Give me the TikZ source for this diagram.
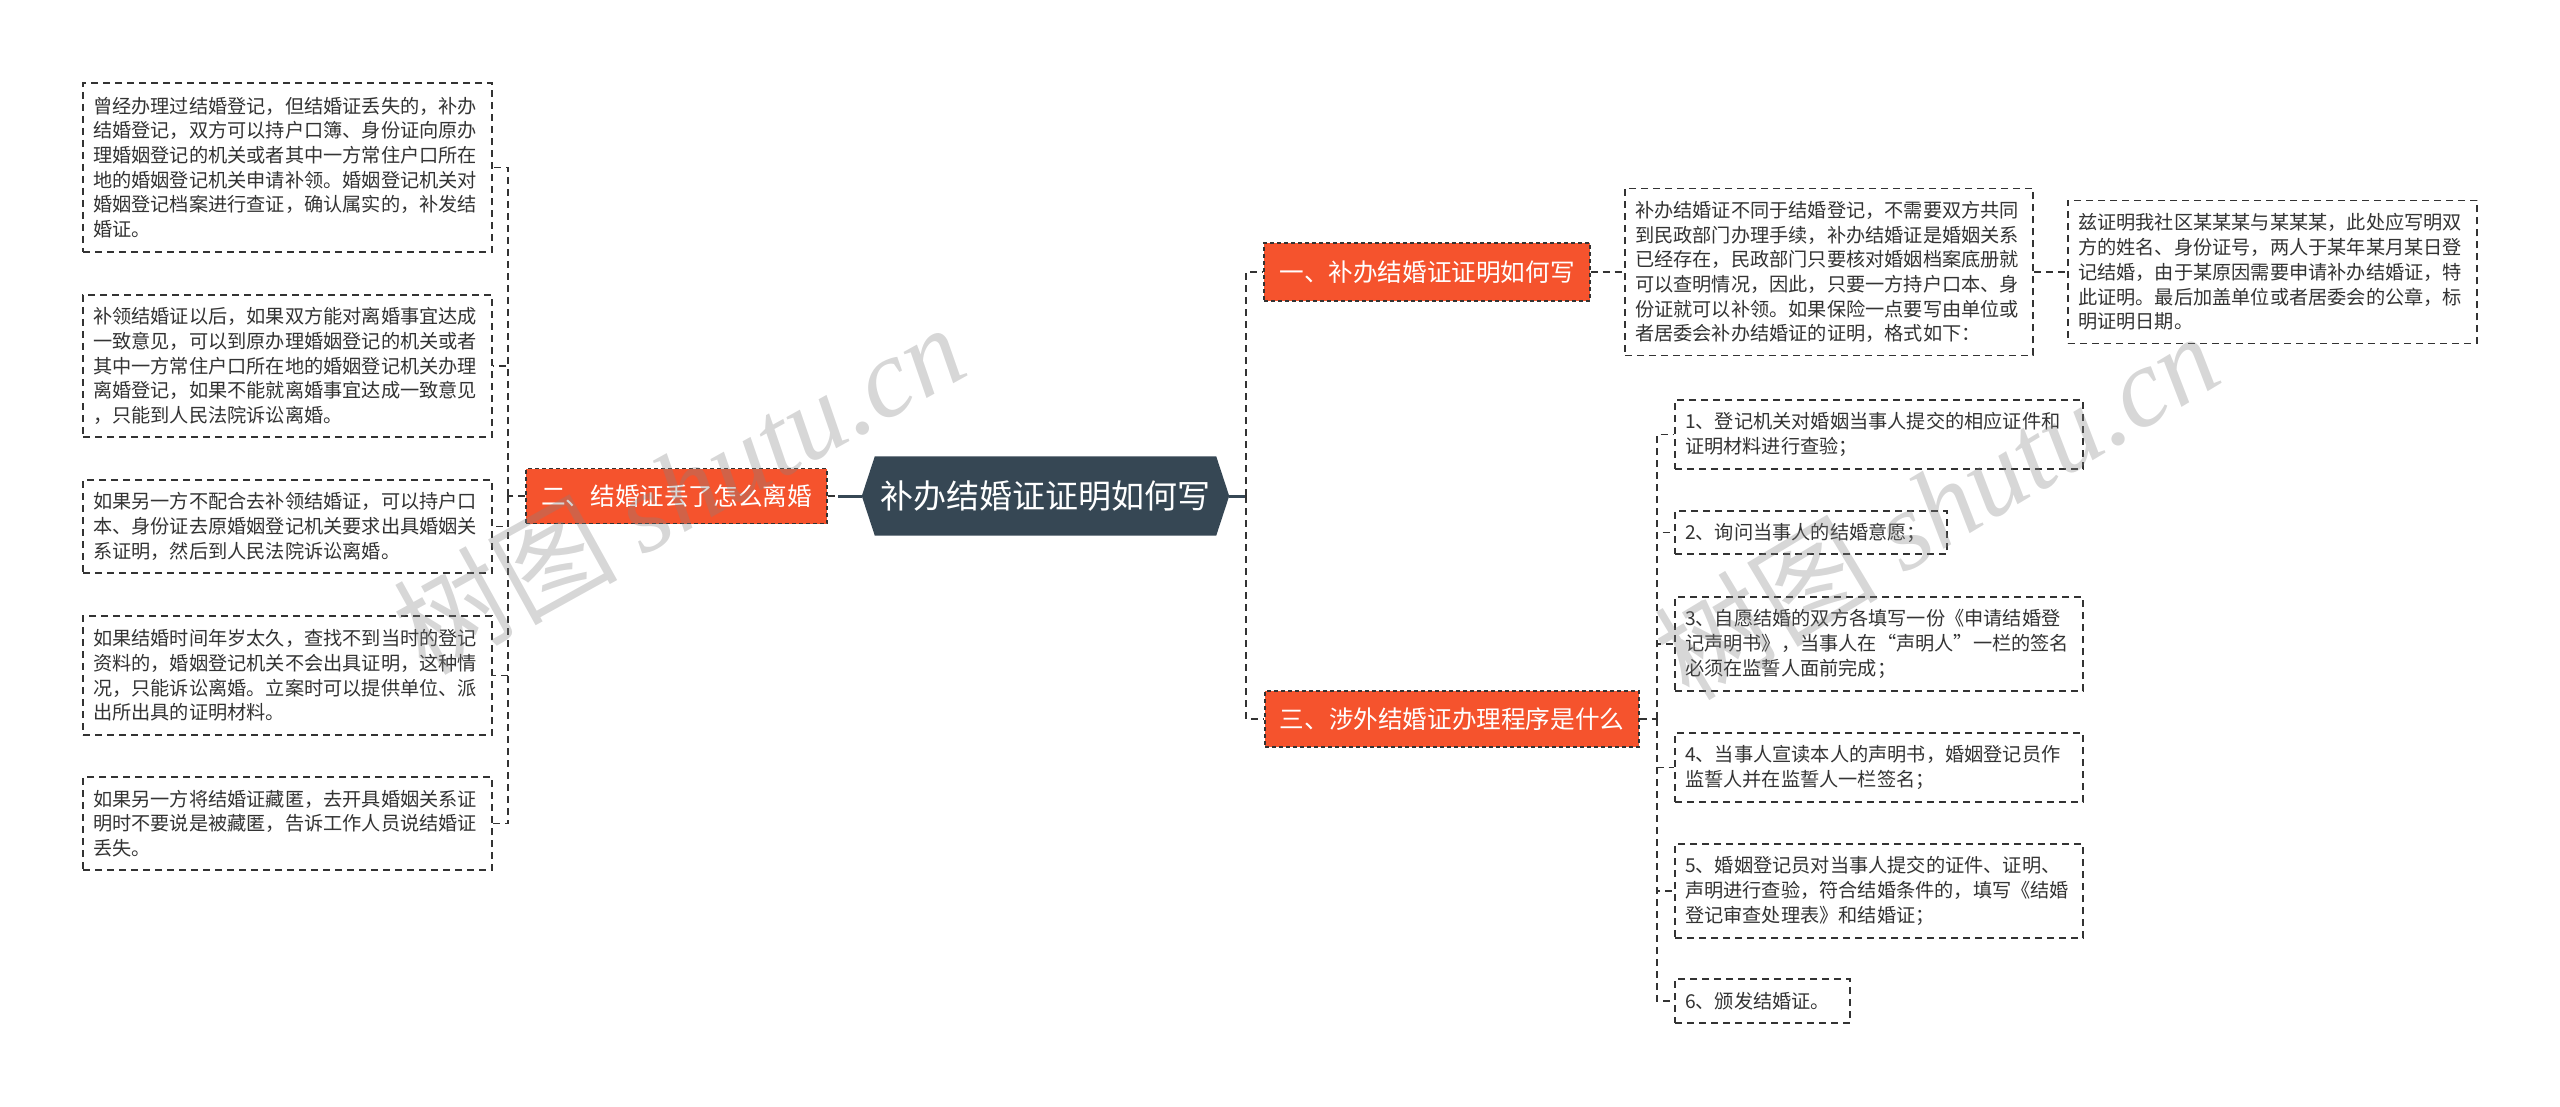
\documentclass[tikz,border=0pt]{standalone}
\usepackage{fontspec}
\setmainfont{Noto Sans CJK SC}
\newfontfamily\wmlatin{Liberation Serif}
\usetikzlibrary{calc}
\definecolor{orangebr}{RGB}{245,83,45}
\definecolor{slate}{RGB}{54,71,84}
\definecolor{linec}{RGB}{51,51,51}
\definecolor{txt}{RGB}{51,51,51}
\definecolor{wmgray}{RGB}{130,130,130}
\tikzset{
  leaf/.style={draw=linec, line width=1.6pt, dash pattern=on 7pt off 5pt, text=txt,
    align=left, inner xsep=10pt, inner ysep=0pt, anchor=center,
    font=\fontsize{19.2}{24.7}\selectfont},
  branch/.style={fill=orangebr, draw=linec, line width=1.2pt, dash pattern=on 4pt off 3pt,
    text=white, inner sep=0pt, anchor=center, font=\fontsize{24.6}{30}\selectfont},
  conn/.style={draw=linec, line width=1.6pt, dash pattern=on 7pt off 5pt},
  solidc/.style={draw=slate, line width=3pt},
  wm/.style={text=wmgray, opacity=0.32, inner sep=0pt, font=\fontsize{112}{116}\selectfont}
}
\begin{document}
\begin{tikzpicture}[x=1pt,y=-1pt]
\useasboundingbox (0,0) rectangle (2560,1107);
% central
\node[minimum width=341pt, minimum height=79pt, inner sep=0pt] (central) at (1045.5,496) {};
\coordinate (cw) at ([xshift=-13pt]central.west);
\coordinate (ce) at ([xshift=13pt]central.east);
\fill[slate] (central.north west) -- (central.north east) -- (ce) -- (central.south east)
  -- (central.south west) -- (cw) -- cycle;
\node[text=white, font=\fontsize{33}{38}\selectfont] (centraltext) at (central) {补办结婚证证明如何写};
% branches
\node[branch, minimum width=301pt, minimum height=55pt] (b2) at (676.5,496) {二、结婚证丢了怎么离婚};
\node[branch, minimum width=326pt, minimum height=58pt] (b1) at (1427,272) {一、补办结婚证证明如何写};
\node[branch, minimum width=374pt, minimum height=56pt] (b3) at (1452,719) {三、涉外结婚证办理程序是什么};
% left leaves
\node[leaf, text width=389pt, minimum height=169pt] (l1) at (287.5,167.5) {曾经办理过结婚登记，但结婚证丢失的，补办\\结婚登记，双方可以持户口簿、身份证向原办\\理婚姻登记的机关或者其中一方常住户口所在\\地的婚姻登记机关申请补领。婚姻登记机关对\\婚姻登记档案进行查证，确认属实的，补发结\\婚证。};
\node[leaf, text width=389pt, minimum height=142pt] (l2) at (287.5,366) {补领结婚证以后，如果双方能对离婚事宜达成\\一致意见，可以到原办理婚姻登记的机关或者\\其中一方常住户口所在地的婚姻登记机关办理\\离婚登记，如果不能就离婚事宜达成一致意见\\，只能到人民法院诉讼离婚。};
\node[leaf, text width=389pt, minimum height=93pt] (l3) at (287.5,526.5) {如果另一方不配合去补领结婚证，可以持户口\\本、身份证去原婚姻登记机关要求出具婚姻关\\系证明，然后到人民法院诉讼离婚。};
\node[leaf, text width=389pt, minimum height=119pt] (l4) at (287.5,675.5) {如果结婚时间年岁太久，查找不到当时的登记\\资料的，婚姻登记机关不会出具证明，这种情\\况，只能诉讼离婚。立案时可以提供单位、派\\出所出具的证明材料。};
\node[leaf, text width=389pt, minimum height=93pt] (l5) at (287.5,823.5) {如果另一方将结婚证藏匿，去开具婚姻关系证\\明时不要说是被藏匿，告诉工作人员说结婚证\\丢失。};
% right leaves of branch 1
\node[leaf, text width=388pt, minimum height=167pt] (r1) at (1829,272) {补办结婚证不同于结婚登记，不需要双方共同\\到民政部门办理手续，补办结婚证是婚姻关系\\已经存在，民政部门只要核对婚姻档案底册就\\可以查明情况，因此，只要一方持户口本、身\\份证就可以补领。如果保险一点要写由单位或\\者居委会补办结婚证的证明，格式如下：};
\node[leaf, text width=389pt, minimum height=143pt] (r2) at (2272.5,272) {兹证明我社区某某某与某某某，此处应写明双\\方的姓名、身份证号，两人于某年某月某日登\\记结婚，由于某原因需要申请补办结婚证，特\\此证明。最后加盖单位或者居委会的公章，标\\明证明日期。};
% right leaves of branch 3
\node[leaf, text width=388pt, minimum height=69pt] (r3) at (1879,434.5) {1、登记机关对婚姻当事人提交的相应证件和\\证明材料进行查验；};
\node[leaf, text width=252pt, minimum height=43pt] (r4) at (1811,532.5) {2、询问当事人的结婚意愿；};
\node[leaf, text width=388pt, minimum height=94pt] (r5) at (1879,644) {3、自愿结婚的双方各填写一份《申请结婚登\\记声明书》，当事人在“声明人”一栏的签名\\必须在监誓人面前完成；};
\node[leaf, text width=388pt, minimum height=69pt] (r6) at (1879,767.5) {4、当事人宣读本人的声明书，婚姻登记员作\\监誓人并在监誓人一栏签名；};
\node[leaf, text width=388pt, minimum height=94pt] (r7) at (1879,891) {5、婚姻登记员对当事人提交的证件、证明、\\声明进行查验，符合结婚条件的，填写《结婚\\登记审查处理表》和结婚证；};
\node[leaf, text width=155pt, minimum height=44pt] (r8) at (1762.5,1001) {6、颁发结婚证。};
% connectors centre
\draw[conn] (b2.east) -- (cw);
\draw[solidc] (cw) -- ++(-24,0);
\draw[solidc] (ce) -- ++(17,0) coordinate (rj);
\draw[conn] (rj) |- (b1.west);
\draw[conn] (rj) |- (b3.west);
% left junction
\coordinate (lj) at (508,496);
\draw[conn] (b2.west) -- (lj);
\foreach \n in {l1,l2,l3,l4,l5} \draw[conn] (lj) |- (\n.east);
% branch 1
\draw[conn] (b1.east) -- (r1.west);
\draw[conn] (r1.east) -- (r2.west);
% branch 3
\coordinate (rj3) at (1657,719);
\draw[conn] (b3.east) -- (rj3);
\foreach \n in {r3,r4,r5,r6,r7,r8} \draw[conn] (rj3) |- (\n.west);
% watermarks
\node[wm, rotate=29] (wm1) at (678,488) {树图 {\wmlatin\itshape shutu.cn}};
\node[wm, rotate=31] (wm2) at (1936,505) {树图 {\wmlatin\itshape shutu.cn}};
\end{tikzpicture}
\end{document}
